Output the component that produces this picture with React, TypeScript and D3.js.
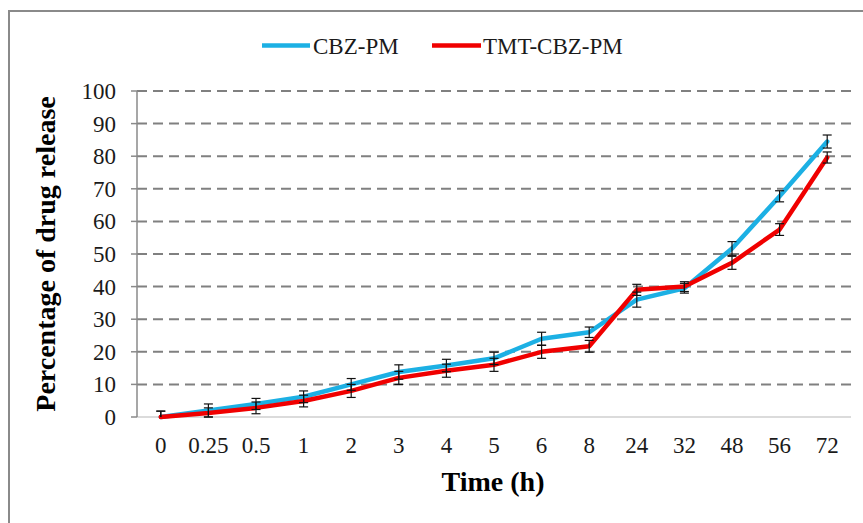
import React from 'react';
import * as d3 from 'd3';

// time points (h)
const timeLabels = ['0', '0.25', '0.5', '1', '2', '3', '4', '5', '6', '8', '24', '32', '48', '56', '72'];

// percentage of drug release
const cbzValues = [0, 2, 4, 6.2, 10, 13.8, 15.8, 18, 24, 26, 36, 39.5, 51.7, 67.7, 84.5];
const cbzErrors = [1.8, 2, 1.7, 1.8, 1.8, 2.2, 1.9, 1.9, 2, 1.6, 2.3, 1.5, 2.1, 1.7, 2];

const tmtValues = [0, 1.2, 2.8, 4.9, 8, 12, 14.2, 16, 20, 21.7, 39, 40, 47.3, 57.5, 79.6];
const tmtErrors = [1.8, 1.6, 1.8, 1.8, 2, 2, 2, 2, 2, 1.8, 1.7, 1.5, 2, 1.8, 1.7];

const yTicks = [0, 10, 20, 30, 40, 50, 60, 70, 80, 90, 100];

const seriesNames = ['CBZ-PM', 'TMT-CBZ-PM'];
const seriesColors = ['#1cb0e4', '#f00000'];

const W = 863;
const H = 523;
const font = '"Liberation Serif", "Times New Roman", serif';

export default function App() {
  const plot = { left: 137, right: 851, top: 91, bottom: 417 };

  const x = d3.scalePoint<string>()
    .domain(timeLabels)
    .range([plot.left, plot.right])
    .padding(0.5);

  const y = d3.scaleLinear()
    .domain([0, 100])
    .range([plot.bottom, plot.top]);

  const line = d3.line<number>()
    .x((_, i) => x(timeLabels[i]) as number)
    .y(d => y(d));

  const series = [
    { name: seriesNames[0], color: seriesColors[0], values: cbzValues, errors: cbzErrors },
    { name: seriesNames[1], color: seriesColors[1], values: tmtValues, errors: tmtErrors },
  ];

  return (
    <svg width={W} height={H} style={{ position: 'absolute', left: 0, top: 0, background: '#fff' }}>
      {/* outer frame */}
      <path d={`M9,${H} V11 H${W}`} fill="none" stroke="#8a8a8a" strokeWidth={2} />

      {/* gridlines */}
      {yTicks.filter(t => t > 0).map(t => (
        <line key={t} x1={plot.left} x2={plot.right} y1={y(t)} y2={y(t)}
          stroke="#808080" strokeWidth={2} strokeDasharray="10,6" />
      ))}

      {/* x axis */}
      <line x1={plot.left} x2={plot.right} y1={y(0)} y2={y(0)} stroke="#cfcfcf" strokeWidth={1.5} />

      {/* y axis */}
      <line x1={plot.left} x2={plot.left} y1={y(0)} y2={y(100)} stroke="#8a8a8a" strokeWidth={1.5} />
      {yTicks.map(t => (
        <g key={t}>
          <line x1={plot.left - 6} x2={plot.left} y1={y(t)} y2={y(t)} stroke="#8a8a8a" strokeWidth={1.5} />
          <text x={116} y={y(t)} dy="0.35em" textAnchor="end" fontFamily={font} fontSize={23} fill="#1a1a1a">
            {t}
          </text>
        </g>
      ))}

      {/* x tick labels */}
      {timeLabels.map(l => (
        <text key={l} x={x(l)} y={453} textAnchor="middle" fontFamily={font} fontSize={23} fill="#1a1a1a">
          {l}
        </text>
      ))}

      {/* lines */}
      {series.map(s => (
        <path key={s.name} d={line(s.values) || ''} fill="none" stroke={s.color}
          strokeWidth={4.5} strokeLinejoin="round" strokeLinecap="round" />
      ))}

      {/* error bars */}
      {series.map(s => s.values.map((v, i) => {
        const cx = x(timeLabels[i]) as number;
        const lo = Math.max(0, v - s.errors[i]);
        const hi = v + s.errors[i];
        return (
          <g key={s.name + i} stroke="#111" strokeWidth={1.2}>
            <line x1={cx} x2={cx} y1={y(lo)} y2={y(hi)} />
            <line x1={cx - 4.5} x2={cx + 4.5} y1={y(hi)} y2={y(hi)} />
            {v > 0 && <line x1={cx - 4.5} x2={cx + 4.5} y1={y(lo)} y2={y(lo)} />}
          </g>
        );
      }))}

      {/* legend */}
      <g>
        <line x1={262} x2={310} y1={45.5} y2={45.5} stroke={seriesColors[0]} strokeWidth={4.5} />
        <text x={313} y={45.5} dy="0.35em" fontFamily={font} fontSize={23} fill="#1a1a1a">{seriesNames[0]}</text>
        <line x1={432} x2={481} y1={45.5} y2={45.5} stroke={seriesColors[1]} strokeWidth={4.5} />
        <text x={483} y={45.5} dy="0.35em" fontFamily={font} fontSize={23} fill="#1a1a1a">{seriesNames[1]}</text>
      </g>

      {/* axis titles */}
      <text x={493} y={491} textAnchor="middle" fontFamily={font} fontSize={28} fontWeight="bold" fill="#000">
        Time (h)
      </text>
      <text transform="translate(55,254) rotate(-90)" textAnchor="middle" fontFamily={font} fontSize={28}
        fontWeight="bold" fill="#000">
        Percentage of drug release
      </text>
    </svg>
  );
}
